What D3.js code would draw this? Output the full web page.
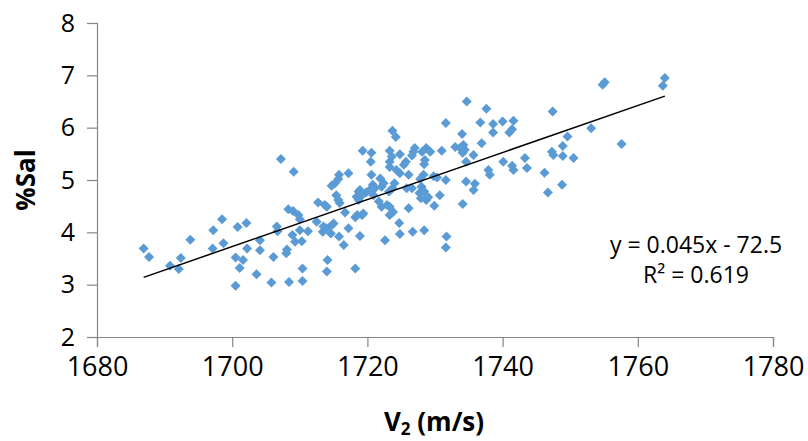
<!DOCTYPE html>
<html>
<head>
<meta charset="utf-8">
<script src="https://cdn.jsdelivr.net/npm/d3@7"></script>
<style>
  body { margin: 0; background: #fff; }
  text { font-family: "Open Sans", sans-serif; fill: #000; }
</style>
</head>
<body>
<div id="chart"></div>
<script>
// V2 sound velocity (m/s) and salt content (%Sal)
var velocity = [
  1686.9, 1687.7, 1690.8, 1692.1, 1692.4, 1693.8, 1697.2, 1698.5, 1697.1, 1698.7,
  1700.8, 1702.1, 1702.2, 1700.5, 1701.6, 1701.1, 1700.5, 1703.6, 1704.1, 1704.1,
  1707.2, 1709.1, 1705.8, 1708.4, 1710.4, 1710.4, 1706.1, 1708.0, 1708.1, 1706.6,
  1706.7, 1708.3, 1709.0, 1709.8, 1710.0, 1708.9, 1709.3, 1710.3, 1710.0, 1711.2,
  1712.7, 1713.7, 1712.5, 1713.5, 1713.4, 1714.1, 1714.0, 1714.0, 1715.0, 1714.5,
  1713.9, 1714.6, 1714.7, 1715.2, 1715.7, 1715.8, 1715.4, 1715.7, 1715.9, 1715.8,
  1716.5, 1717.2, 1716.7, 1717.2, 1718.5, 1718.2, 1719.2, 1719.4, 1718.9, 1718.2,
  1719.2, 1718.4, 1718.7, 1719.8, 1718.7, 1718.9, 1719.3, 1720.6, 1720.5, 1720.6,
  1720.4, 1720.8, 1721.1, 1722.1, 1722.4, 1721.9, 1720.9, 1721.7, 1722.1, 1722.9,
  1723.3, 1723.3, 1723.8, 1722.6, 1723.3, 1723.6, 1723.3, 1723.3, 1723.7, 1724.2,
  1724.8, 1725.7, 1725.4, 1724.3, 1724.8, 1726.1, 1724.0, 1723.7, 1723.2, 1725.8,
  1726.6, 1726.1, 1724.7, 1724.8, 1726.7, 1728.4, 1727.0, 1726.8, 1728.7, 1729.3,
  1728.1, 1731.0, 1728.3, 1727.8, 1728.0, 1728.4, 1729.0, 1728.7, 1727.9, 1727.7,
  1729.8, 1730.3, 1731.6, 1730.7, 1729.9, 1731.7, 1731.6, 1731.6, 1733.0, 1733.7,
  1734.2, 1734.4, 1734.1, 1734.0, 1734.7, 1737.6, 1736.7, 1736.9, 1735.7, 1734.6,
  1737.9, 1738.1, 1734.6, 1735.9, 1735.7, 1734.1, 1738.6, 1740.0, 1741.6, 1741.4,
  1741.0, 1738.6, 1740.1, 1741.4, 1741.6, 1743.3, 1743.6, 1746.2, 1746.7, 1747.4,
  1747.3, 1747.5, 1748.9, 1748.9, 1750.5, 1749.6, 1748.8, 1753.1, 1755.1, 1754.8,
  1757.6, 1764.0, 1763.7, 1728.5, 1728.4, 1726.6
];
var salinity = [
  3.69, 3.53, 3.36, 3.30, 3.51, 3.86, 4.04, 4.25, 3.69, 3.79,
  4.10, 4.18, 3.69, 3.52, 3.47, 3.32, 2.98, 3.20, 3.85, 3.66,
  5.40, 5.16, 3.04, 3.05, 3.07, 3.31, 3.53, 3.60, 3.67, 4.11,
  4.02, 4.44, 4.41, 4.33, 4.25, 3.95, 3.82, 3.83, 4.04, 4.02,
  4.57, 4.52, 4.20, 4.11, 4.01, 3.47, 3.25, 4.49, 4.17, 4.11,
  4.08, 3.98, 4.89, 4.94, 5.02, 5.10, 4.71, 4.62, 4.56, 3.92,
  3.76, 4.08, 4.38, 5.13, 4.33, 4.29, 4.33, 4.36, 3.93, 3.31,
  4.71, 4.68, 4.62, 4.76, 4.78, 4.81, 5.56, 5.52, 5.35, 5.10,
  4.82, 4.91, 4.84, 4.87, 4.94, 5.03, 4.71, 4.59, 4.49, 4.52,
  4.49, 4.33, 4.39, 3.85, 5.56, 5.45, 5.35, 5.25, 5.94, 5.82,
  5.49, 5.35, 5.29, 5.19, 5.13, 5.10, 4.94, 4.84, 4.78, 4.84,
  4.84, 4.46, 4.18, 3.97, 4.01, 4.04, 5.61, 5.54, 5.61, 5.54,
  5.54, 5.56, 5.10, 5.02, 4.87, 4.78, 4.67, 4.62, 4.65, 4.75,
  5.07, 5.05, 5.00, 4.71, 4.51, 3.92, 3.71, 6.09, 5.63, 5.61,
  5.67, 5.58, 5.52, 5.88, 6.50, 6.36, 6.10, 5.70, 5.48, 5.35,
  5.19, 5.10, 4.97, 4.93, 4.81, 4.54, 6.07, 6.12, 6.13, 5.97,
  5.91, 5.91, 5.35, 5.27, 5.19, 5.42, 5.23, 5.14, 4.76, 6.31,
  5.54, 5.48, 5.65, 5.46, 5.42, 5.83, 4.91, 5.99, 6.87, 6.82,
  5.69, 6.95, 6.80, 5.38, 5.30, 5.47
];

var xTicks = [1680, 1700, 1720, 1740, 1760, 1780];
var yTicks = [2, 3, 4, 5, 6, 7, 8];
var equationLines = ["y = 0.045x - 72.5", "R\u00b2 = 0.619"];

var width = 808, height = 441;
var plot = { left: 97, right: 773, top: 23, bottom: 337 };

var svg = d3.select("#chart")
  .append("svg")
  .attr("width", width)
  .attr("height", height);

var xPositionScale = d3.scaleLinear().domain([1680, 1780]).range([plot.left, plot.right]);
var yPositionScale = d3.scaleLinear().domain([2, 8]).range([plot.bottom, plot.top]);

var datapoints = velocity.map(function(v, i) {
  return { v: v, sal: salinity[i] };
});

// axes
var xAxis = d3.axisBottom(xPositionScale).tickValues(xTicks).tickSize(10).tickPadding(10).tickFormat(d3.format("d"));
var yAxis = d3.axisLeft(yPositionScale).tickValues(yTicks).tickSize(10).tickPadding(12).tickFormat(d3.format("d"));

var xg = svg.append("g")
  .attr("class", "axis x-axis")
  .attr("transform", "translate(0," + plot.bottom + ")")
  .call(xAxis);

var yg = svg.append("g")
  .attr("class", "axis y-axis")
  .attr("transform", "translate(" + plot.left + ",0)")
  .call(yAxis);

svg.selectAll(".axis path, .axis line")
  .attr("stroke", "#868686")
  .attr("stroke-width", 1.2);

xg.selectAll("text")
  .attr("font-size", "27px")
  .attr("font-family", "Open Sans")
  .attr("fill", "#000");

yg.selectAll("text")
  .attr("font-size", "25px")
  .attr("font-family", "Open Sans")
  .attr("fill", "#000");

// points
var diamond = d3.symbol().type(d3.symbolSquare).size(50);

svg.selectAll(".pt")
  .data(datapoints)
  .enter().append("path")
  .attr("class", "pt")
  .attr("d", diamond)
  .attr("fill", "#5b9bd5")
  .attr("transform", function(d) {
    return "translate(" + xPositionScale(d.v) + "," + yPositionScale(d.sal) + ") rotate(45)";
  });

// linear trend line from the points
var meanX = d3.mean(velocity), meanY = d3.mean(salinity);
var sxy = d3.sum(datapoints, function(d) { return (d.v - meanX) * (d.sal - meanY) });
var sxx = d3.sum(datapoints, function(d) { return (d.v - meanX) * (d.v - meanX) });
var slope = sxy / sxx;
var intercept = meanY - slope * meanX;
var xEnds = d3.extent(velocity);

svg.append("line")
  .attr("x1", xPositionScale(xEnds[0]))
  .attr("y1", yPositionScale(slope * xEnds[0] + intercept))
  .attr("x2", xPositionScale(xEnds[1]))
  .attr("y2", yPositionScale(slope * xEnds[1] + intercept))
  .attr("stroke", "#000")
  .attr("stroke-width", 1.5);

// equation label
svg.selectAll(".eq")
  .data(equationLines)
  .enter().append("text")
  .attr("class", "eq")
  .attr("x", 696)
  .attr("y", function(d, i) { return 253 + i * 30 })
  .attr("text-anchor", "middle")
  .attr("font-size", "23px")
  .text(function(d) { return d });

// axis titles
svg.append("text")
  .attr("transform", "translate(35,180) rotate(-90)")
  .attr("text-anchor", "middle")
  .attr("font-size", "26px")
  .attr("font-weight", "bold")
  .text("%Sal");

var xt = svg.append("text")
  .attr("x", 434)
  .attr("y", 431)
  .attr("text-anchor", "middle")
  .attr("font-size", "26px")
  .attr("font-weight", "bold");
xt.append("tspan").text("V");
xt.append("tspan").attr("font-size", "17px").attr("dy", 4).text("2");
xt.append("tspan").attr("dy", -4).text(" (m/s)");
</script>
</body>
</html>
